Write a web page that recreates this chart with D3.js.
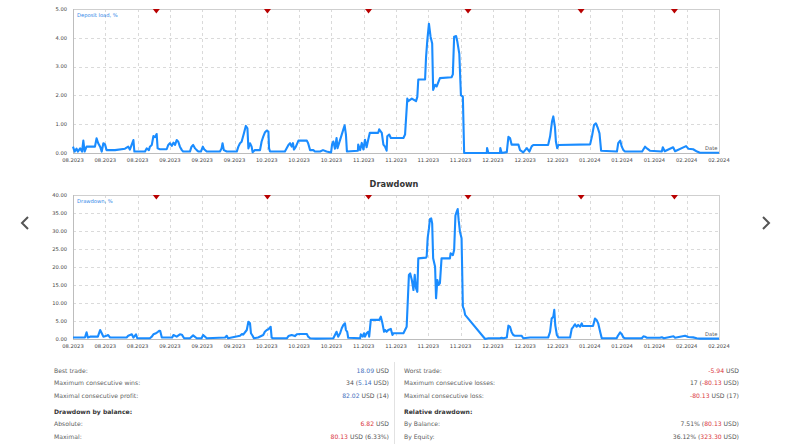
<!DOCTYPE html>
<html><head><meta charset="utf-8">
<script src="https://cdn.jsdelivr.net/npm/d3@7"></script>
<style>
body{margin:0;background:#fff;}
svg{display:block;font-family:"DejaVu Sans",sans-serif;}
</style>
</head><body>
<svg id="c" width="790" height="444"></svg>
<script>
// ---------- data ----------
const xTickLabels = ["08.2023","08.2023","08.2023","09.2023","09.2023","09.2023","10.2023","10.2023","10.2023","11.2023","11.2023","11.2023","11.2023","12.2023","12.2023","12.2023","01.2024","01.2024","01.2024","02.2024","02.2024"];
const xTickDays = d3.range(0, 201, 10);
const loadTicks = [0, 1, 2, 3, 4, 5];
const ddTicks = [0, 5, 10, 15, 20, 25, 30, 35, 40];
const markerDays = [25.8, 60.2, 91.5, 122.3, 157.3, 186.2];

const loadDays = [0,0.5,1.1,1.5,2.2,2.8,3.2,3.6,4.2,6.8,7.3,7.8,8.4,8.9,9.4,9.9,10.4,13.0,16.1,17.1,17.6,18.7,19.0,22.3,22.8,23.5,23.8,24.4,24.9,25.4,25.9,26.2,26.9,29.0,29.5,30.0,30.6,31.1,31.6,32.1,32.6,33.1,33.7,34.1,36.2,36.7,37.2,37.8,38.3,38.8,39.6,40.2,40.6,41.4,45.5,46.0,46.3,46.7,47.6,50.7,51.2,51.7,52.2,52.9,53.5,54.0,54.3,54.8,55.3,55.6,56.3,57.9,58.4,58.9,59.4,60.0,60.5,60.7,61.0,65.6,66.7,67.2,67.7,68.1,68.4,69.0,69.8,72.4,72.8,73.4,74.4,74.9,76.5,77.4,78.5,79.9,80.2,80.6,81.1,81.6,81.9,82.4,83.2,83.7,84.1,84.5,84.8,88.2,88.3,88.9,89.4,89.9,90.4,90.9,91.4,91.9,94.5,94.8,95.6,96.1,96.6,97.1,97.3,97.9,98.4,102.3,102.8,103.5,103.8,104.9,106.2,106.6,106.9,109.0,109.3,109.7,110.2,110.7,111.2,111.5,112.1,112.6,113.6,117.2,117.6,118.0,118.6,119.0,119.6,120.1,120.7,121.1,128.1,128.2,128.6,132.2,132.3,132.7,134.3,134.8,135.3,135.8,137.9,138.4,139.4,140.5,141.3,142.0,142.5,147.1,147.7,148.3,148.7,149.2,149.5,149.9,150.3,160.1,160.7,161.3,161.9,162.5,163.0,163.5,168.4,168.8,169.4,169.9,170.4,170.9,176.2,177.1,177.8,178.6,182.3,182.6,183.2,185.8,186.4,189.8,190.5,192.0,193.2,194.1,200];
const loadValues = [0.22,0.05,0.15,0.05,0.16,0.05,0.43,0.05,0.22,0.22,0.51,0.34,0.22,0.05,0.34,0.30,0.10,0.10,0.15,0.22,0.12,0.45,0.05,0.05,0.16,0.10,0.22,0.28,0.59,0.55,0.66,0.16,0.13,0.13,0.28,0.34,0.25,0.36,0.28,0.45,0.39,0.22,0.10,0.05,0.05,0.22,0.28,0.16,0.10,0.05,0.05,0.22,0.13,0.05,0.05,0.16,0.34,0.10,0.05,0.05,0.22,0.34,0.39,0.68,0.94,0.86,0.16,0.34,0.22,0.03,0.10,0.10,0.40,0.57,0.71,0.78,0.74,0.16,0.05,0.05,0.28,0.34,0.22,0.34,0.12,0.22,0.43,0.43,0.34,0.10,0.10,0.05,0.05,0.10,0.05,0.02,0.29,0.40,0.15,0.52,0.17,0.35,0.64,0.82,0.96,0.64,0.05,0.08,0.29,0.10,0.35,0.12,0.46,0.20,0.46,0.70,0.70,0.82,0.70,0.29,0.22,0.08,0.58,0.64,0.52,0.52,0.64,1.89,1.80,1.89,1.80,1.95,2.55,2.55,3.32,3.92,4.49,4.04,3.80,2.19,2.37,2.31,2.60,2.63,2.73,4.04,4.06,3.86,3.44,2.01,1.95,0,0,0.17,0,0,0.17,0,0.03,0.56,0.52,0.29,0.29,0.10,0.02,0.17,0.05,0.23,0.28,0.28,0.57,1.09,1.27,0.91,0.40,0.17,0.28,0.30,0.60,0.97,1.03,0.86,0.68,0.08,0.05,0.34,0.43,0.22,0.10,0.05,0.05,0.22,0.15,0.08,0.05,0.20,0.06,0.20,0.06,0.24,0.15,0.13,0.05,0.01,0.01];

const ddDays = [0,3.7,4.2,4.6,5.3,7.7,8.4,8.9,9.4,10.4,10.9,11.5,16.6,17.1,18.2,18.7,19.5,19.9,23.8,24.4,24.9,25.7,26.3,26.7,27.0,27.5,30.7,31.1,32.1,33.1,33.7,34.4,36.2,37.2,38.3,39.8,40.3,41.4,47.1,47.6,48.0,51.7,52.3,52.7,53.8,54.3,54.8,55.1,55.6,56.0,57.3,58.9,59.4,60.0,60.5,61.0,61.2,61.5,61.9,66.2,66.7,67.7,68.7,69.3,70.3,72.4,72.8,73.4,75.2,80.6,81.1,81.6,82.1,82.7,83.2,83.7,84.2,84.5,84.9,85.2,88.9,89.1,89.7,90.1,90.4,90.9,91.4,91.7,92.2,94.8,95.3,95.8,96.3,96.6,97.1,97.6,98.4,98.9,99.2,102.3,102.8,103.3,104.0,104.4,104.9,105.4,105.8,106.2,106.6,106.9,109.3,109.5,109.8,110.2,110.5,110.9,111.2,111.5,112.1,112.4,112.8,113.2,113.6,114.1,116.7,116.9,117.6,118.0,118.4,118.8,119.1,119.4,119.8,120.3,120.7,121.1,121.4,127.6,128.6,132.2,132.7,133.2,134.3,134.8,135.3,135.8,136.3,136.8,138.9,139.4,141.5,147.1,147.7,148.2,148.7,149.0,149.3,149.8,150.3,153.9,154.4,154.9,155.4,155.9,156.4,157.0,157.5,157.8,161.0,161.6,162.1,162.6,163.2,163.7,168.3,168.7,169.4,169.9,170.4,170.9,176.1,176.6,177.1,177.6,181.7,182.3,182.9,185.9,186.4,189.5,190.5,192.0,193.1,194.1,200];
const ddValues = [0.4,0.4,1.85,0.4,0.65,0.65,2.5,1.6,0.65,0.9,1.1,0.4,0.4,0.9,1.3,0.4,1.3,0.2,0.2,0.65,1.3,1.6,2.0,2.3,2.2,0.4,0.4,1.1,0.65,1.3,1.2,0.2,0.2,1.0,0.2,0.2,1.1,0.2,0.4,0.9,0.2,0.9,1.4,1.2,2.5,4.8,4.35,1.6,0.9,0.2,0.4,1.1,2.0,2.5,2.7,3.2,3.4,0.4,0.2,0.2,0.8,1.1,0.8,1.3,1.4,1.4,0.65,0.2,0.1,0.2,1.1,2.0,0.65,1.6,3.0,3.9,4.35,2.5,2.0,0.35,0.2,1.3,0.65,1.6,0.65,1.6,2.0,0.65,5.3,5.3,6.2,4.35,2.0,2.5,2.0,2.5,2.8,1.1,1.6,1.6,2.5,3.4,17.8,18.2,16.4,13.6,17.8,14.1,13.1,22.4,22.6,22.9,28,30.7,33.3,33.5,32.1,22.4,20.1,11.3,16.4,15,15.5,22.4,22.4,23.8,23.3,24.7,34.3,35.4,36.1,33,29.8,28,9.0,8.1,6.7,0,0.2,0.2,0.35,0.2,0.4,3.7,3.4,1.9,1.1,0.9,0.9,0.2,0.4,0.4,2.0,5.7,6.2,8.1,3.9,1.1,0.4,0.4,2.8,3.4,4.1,3.4,3.9,3.4,4.35,3.6,3.6,5.7,5.3,4.35,2.0,0.2,0.2,0.9,1.85,1.3,0.4,0.2,0.2,0.75,0.65,0.35,0.35,0.5,0.2,0.75,0.35,0.9,0.55,0.45,0.2,0.1,0.1];

const statsLeft = [
  {label: "Best trade:", parts: [["18.09", "blue"], [" USD", "plain"]]},
  {label: "Maximum consecutive wins:", parts: [["34 (", "plain"], ["5.14", "blue"], [" USD)", "plain"]]},
  {label: "Maximal consecutive profit:", parts: [["82.02", "blue"], [" USD (14)", "plain"]]},
  {label: "Drawdown by balance:", header: true, parts: []},
  {label: "Absolute:", parts: [["6.82", "red"], [" USD", "plain"]]},
  {label: "Maximal:", parts: [["80.13", "red"], [" USD (6.33%)", "plain"]]}
];
const statsRight = [
  {label: "Worst trade:", parts: [["-5.94", "red"], [" USD", "plain"]]},
  {label: "Maximum consecutive losses:", parts: [["17 (", "plain"], ["-80.13", "red"], [" USD)", "plain"]]},
  {label: "Maximal consecutive loss:", parts: [["-80.13", "red"], [" USD (17)", "plain"]]},
  {label: "Relative drawdown:", header: true, parts: []},
  {label: "By Balance:", parts: [["7.51% (", "plain"], ["80.13", "red"], [" USD)", "plain"]]},
  {label: "By Equity:", parts: [["36.12% (", "plain"], ["323.30", "red"], [" USD)", "plain"]]}
];

// ---------- drawing ----------
const svg = d3.select("#c");
const LINE = "#1a8cff";
const L = 73, R = 719;
const x = d3.scaleLinear().domain([0, 200]).range([L, R]);

function panel(top, bottom, ticks, days, values, legend) {
  const y = d3.scaleLinear().domain([0, d3.max(ticks)]).range([bottom, top]);
  const g = svg.append("g");
  g.selectAll(".hg").data(ticks.slice(1, -1)).join("line")
    .attr("x1", L).attr("x2", R).attr("y1", d => Math.round(y(d)) + 0.5).attr("y2", d => Math.round(y(d)) + 0.5)
    .attr("stroke", "#dadada").attr("stroke-dasharray", "3,3");
  g.selectAll(".vg").data(xTickDays.slice(1, -1)).join("line")
    .attr("x1", d => Math.round(x(d)) + 0.5).attr("x2", d => Math.round(x(d)) + 0.5)
    .attr("y1", top).attr("y2", bottom)
    .attr("stroke", "#dadada").attr("stroke-dasharray", "3,3");
  g.append("rect").attr("x", L + 0.5).attr("y", top + 0.5).attr("width", R - L).attr("height", bottom - top)
    .attr("fill", "none").attr("stroke", "#cfcfcf");
  g.append("line").attr("x1", L + 0.5).attr("x2", L + 0.5).attr("y1", top).attr("y2", bottom + 1).attr("stroke", "#bdbdbd");
  g.append("line").attr("x1", L).attr("x2", R + 1).attr("y1", bottom + 0.5).attr("y2", bottom + 0.5).attr("stroke", "#bdbdbd");
  g.selectAll(".yl").data(ticks).join("text")
    .attr("x", L - 6).attr("y", d => y(d)).attr("dy", "0.35em")
    .attr("text-anchor", "end").attr("font-size", 5.2).attr("fill", "#444")
    .text(d => d3.format(".2f")(d));
  g.selectAll(".xl").data(xTickDays).join("text")
    .attr("x", d => x(d)).attr("y", bottom + 7).attr("dy", "0.35em")
    .attr("text-anchor", "middle").attr("font-size", 5.2).attr("fill", "#444")
    .text((d, i) => xTickLabels[i]);
  const pts = days.map((d, i) => [d, values[i]]);
  g.append("path").datum(pts)
    .attr("fill", "none").attr("stroke", LINE).attr("stroke-width", 2.1).attr("stroke-linejoin", "round")
    .attr("d", d3.line().x(d => x(d[0])).y(d => y(d[1])));
  g.selectAll(".mk").data(markerDays).join("path")
    .attr("d", d => `M${x(d) - 3.5},${top} L${x(d) + 3.5},${top} L${x(d)},${top + 4.5} Z`)
    .attr("fill", "#b80000");
  g.append("text").attr("x", L + 4).attr("y", top + 6).attr("dy", "0.35em")
    .attr("font-size", 5.2).attr("fill", "#2f86e8").text(legend);
  g.append("text").attr("x", R - 14).attr("y", bottom - 5).attr("dy", "0.35em")
    .attr("font-size", 5.2).attr("fill", "#555").text("Date");
}

panel(9, 153, loadTicks, loadDays, loadValues, "Deposit load, %");
svg.append("text").attr("x", 394).attr("y", 184.5).attr("dy", "0.35em").attr("text-anchor", "middle")
  .attr("font-size", 8.2).attr("font-weight", "bold").attr("fill", "#333").text("Drawdown");
panel(195, 339, ddTicks, ddDays, ddValues, "Drawdown, %");

svg.append("path").attr("d", "M28,217 L22,223 L28,229").attr("fill", "none").attr("stroke", "#555").attr("stroke-width", 2);
svg.append("path").attr("d", "M763,217 L769,223 L763,229").attr("fill", "none").attr("stroke", "#555").attr("stroke-width", 2);

const rowY = [370.7, 383.3, 396, 411.7, 424, 436.7];
const colors = {blue: "#4470bd", red: "#d9363e", plain: "#555"};
function stats(rows, lx, rx) {
  rows.forEach((r, i) => {
    svg.append("text").attr("x", lx).attr("y", rowY[i]).attr("dy", "0.35em")
      .attr("font-size", 6.1).attr("fill", r.header ? "#333" : "#5e5e5e")
      .attr("font-weight", r.header ? "bold" : "normal").text(r.label);
    const t = svg.append("text").attr("x", rx).attr("y", rowY[i]).attr("dy", "0.35em")
      .attr("font-size", 6.1).attr("text-anchor", "end").attr("xml:space", "preserve");
    r.parts.forEach(p => t.append("tspan").attr("fill", colors[p[1]]).text(p[0]));
  });
}
stats(statsLeft, 54, 389);
stats(statsRight, 404, 739);
svg.append("line").attr("x1", 394.5).attr("x2", 394.5).attr("y1", 362).attr("y2", 444).attr("stroke", "#e2e2e2");
</script>
</body></html>
